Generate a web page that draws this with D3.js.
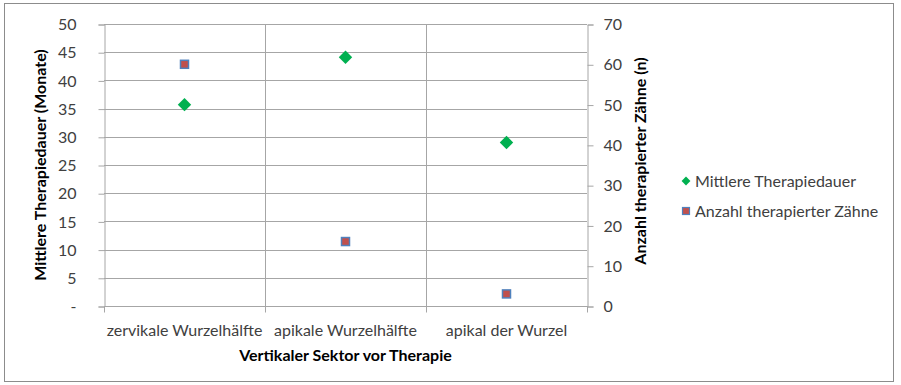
<!DOCTYPE html>
<html>
<head>
<meta charset="utf-8">
<script src="https://cdn.jsdelivr.net/npm/d3@7"></script>
<style>
  html, body { margin: 0; padding: 0; background: #fff; }
  svg { display: block; font-family: Lato, "Open Sans", sans-serif; }
</style>
</head>
<body>
<svg id="chart" width="901" height="385"></svg>
<script>
// Categories (vertical sector before therapy)
const categories = ["zervikale Wurzelhälfte", "apikale Wurzelhälfte", "apikal der Wurzel"];
// Mean therapy duration in months (left axis)
const meanDuration = [35.7, 44.1, 29.0];
// Number of treated teeth (right axis)
const toothCount = [60, 16, 3];
// Axis tick values
const leftTicks = [0, 5, 10, 15, 20, 25, 30, 35, 40, 45, 50];
const rightTicks = [0, 10, 20, 30, 40, 50, 60, 70];

const svg = d3.select("#chart");
const plot = { left: 104, right: 587, top: 24, bottom: 306 };
const gridColor = "#a6a6a6";
const textColor = "#404040";
const fs = 16;

// Chart border
svg.append("rect")
  .attr("x", 4.5).attr("y", 3.5).attr("width", 889).attr("height", 378)
  .attr("fill", "#fff").attr("stroke", "#8c8c8c").attr("stroke-width", 1);

const x = d3.scaleBand().domain(categories).range([plot.left, plot.right]).padding(0);
const yL = d3.scaleLinear().domain([0, 50]).range([plot.bottom, plot.top]);
const yR = d3.scaleLinear().domain([0, 70]).range([plot.bottom, plot.top]);

// Horizontal gridlines
svg.append("g").selectAll("line").data(leftTicks.filter(d => d > 0)).join("line")
  .attr("x1", plot.left).attr("x2", plot.right)
  .attr("y1", d => Math.round(yL(d)) + 0.5).attr("y2", d => Math.round(yL(d)) + 0.5)
  .attr("stroke", gridColor);

// Vertical gridlines at category boundaries
const bounds = categories.slice(1).map(c => x(c));
svg.append("g").selectAll("line").data(bounds).join("line")
  .attr("x1", d => Math.round(d) + 0.5).attr("x2", d => Math.round(d) + 0.5)
  .attr("y1", plot.top).attr("y2", plot.bottom)
  .attr("stroke", gridColor);

// Left axis
const leftAxis = d3.axisLeft(yL).tickValues(leftTicks).tickSize(6).tickPadding(22)
  .tickFormat(d => d === 0 ? "-" : d);
const gL = svg.append("g").attr("transform", `translate(${plot.left + 0.5},0.5)`).call(leftAxis);

// Right axis
const rightAxis = d3.axisRight(yR).tickValues(rightTicks).tickSize(6).tickPadding(10);
const gR = svg.append("g").attr("transform", `translate(${plot.right + 0.5},0.5)`).call(rightAxis);

// Bottom axis (ticks at category boundaries)
const gB = svg.append("g").attr("transform", `translate(0,${plot.bottom + 0.5})`);
gB.append("line").attr("x1", plot.left).attr("x2", plot.right + 1).attr("stroke", gridColor);
gB.selectAll("line.tick").data([plot.left, ...bounds, plot.right]).join("line")
  .attr("class", "tick")
  .attr("x1", d => Math.round(d) + 0.5).attr("x2", d => Math.round(d) + 0.5)
  .attr("y1", 0).attr("y2", 6).attr("stroke", gridColor);
gB.selectAll("text").data(categories).join("text")
  .attr("x", d => x(d) + x.bandwidth() / 2).attr("y", 29)
  .attr("text-anchor", "middle").attr("fill", textColor).attr("font-size", fs)
  .text(d => d);

[gL, gR].forEach(g => {
  g.select(".domain").attr("stroke", gridColor);
  g.selectAll(".tick line").attr("stroke", gridColor);
  g.selectAll(".tick text").attr("fill", textColor).attr("font-size", fs)
    .attr("font-family", "Lato, 'Open Sans', sans-serif");
});

// Axis titles
svg.append("text")
  .attr("transform", `translate(46,${(plot.top + plot.bottom) / 2}) rotate(-90)`)
  .attr("text-anchor", "middle").attr("font-weight", "bold").attr("font-size", fs)
  .attr("fill", "#000").text("Mittlere Therapiedauer (Monate)");
svg.append("text")
  .attr("transform", `translate(646,${(plot.top + plot.bottom) / 2 - 4}) rotate(-90)`)
  .attr("text-anchor", "middle").attr("font-weight", "bold").attr("font-size", fs)
  .attr("fill", "#000").text("Anzahl therapierter Zähne (n)");
svg.append("text")
  .attr("x", (plot.left + plot.right) / 2).attr("y", 361)
  .attr("text-anchor", "middle").attr("font-weight", "bold").attr("font-size", fs)
  .attr("fill", "#000").text("Vertikaler Sektor vor Therapie");

// Markers
const diamond = d3.symbol().type(d3.symbolDiamond2).size(115);
const cx = d => x(d) + x.bandwidth() / 2;

svg.append("g").selectAll("path").data(categories).join("path")
  .attr("transform", (d, i) => `translate(${cx(d)},${yL(meanDuration[i])})`)
  .attr("d", diamond).attr("fill", "#00b050");

svg.append("g").selectAll("rect").data(categories).join("rect")
  .attr("x", (d) => cx(d) - 4).attr("y", (d, i) => yR(toothCount[i]) - 4)
  .attr("width", 8).attr("height", 8)
  .attr("fill", "#c0504d").attr("stroke", "#4f81bd").attr("stroke-width", 1.5);

// Legend
const legend = svg.append("g").attr("transform", "translate(686,0)");
legend.append("path").attr("transform", "translate(0,181)")
  .attr("d", d3.symbol().type(d3.symbolDiamond2).size(50)).attr("fill", "#00b050");
legend.append("text").attr("x", 9).attr("y", 186.5).attr("font-size", fs)
  .attr("fill", textColor).text("Mittlere Therapiedauer");
legend.append("rect").attr("x", -3.5).attr("y", 207.5).attr("width", 7).attr("height", 7)
  .attr("fill", "#c0504d").attr("stroke", "#4f81bd").attr("stroke-width", 1.2);
legend.append("text").attr("x", 9).attr("y", 216.5).attr("font-size", fs)
  .attr("fill", textColor).text("Anzahl therapierter Zähne");
</script>
</body>
</html>
